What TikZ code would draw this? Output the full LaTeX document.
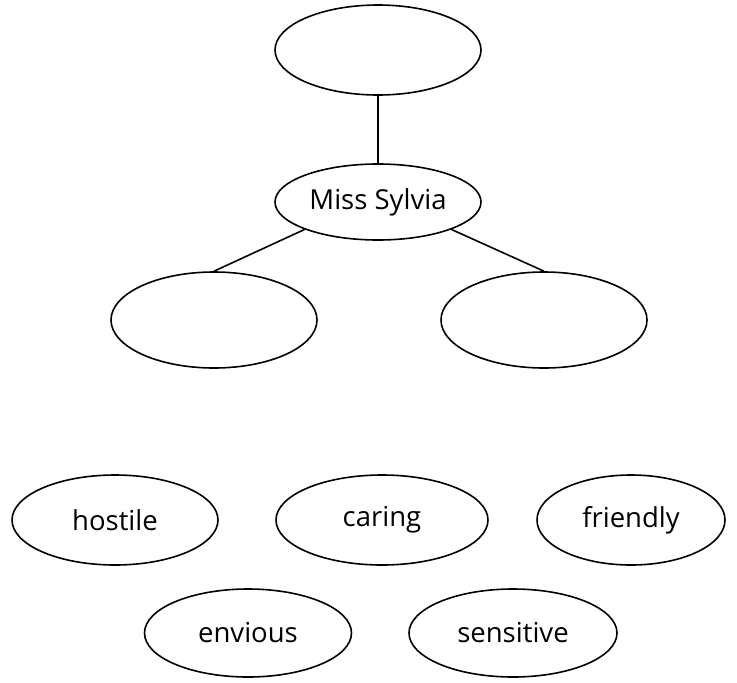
\documentclass[tikz,border=0pt]{standalone}
\usepackage{fontspec}
\setmainfont{Open Sans}
\usetikzlibrary{shapes.geometric}

\tikzset{
  oval/.style={draw, ellipse, line width=1.6pt, inner sep=0pt,
    minimum width=206pt, minimum height=90pt, font=\fontsize{27.5}{32}\selectfont},
  link/.style={line width=1.6pt}
}

\begin{document}
\begin{tikzpicture}[x=1pt,y=1pt,yscale=-1]
\useasboundingbox (0,0) rectangle (737,683);

% tree
\node[oval] (top) at (378,50) {};
\node[oval, minimum height=76pt] (sylvia) at (378,202) {Miss Sylvia};
\node[oval, minimum height=96pt] (left) at (214,320) {};
\node[oval, minimum height=96pt] (right) at (544,320) {};

\draw[link] (top) -- (sylvia);
\draw[link] (sylvia.south west) -- (left.north);
\draw[link] (sylvia.south east) -- (right.north);

% word bank
\node[oval] (hostile) at (115,520) {hostile};
\node[oval, minimum width=212pt] (caring) at (382,520) {caring};
\node[oval, minimum width=188pt] (friendly) at (631,520) {friendly};
\node[oval, minimum width=207pt, minimum height=88pt] (envious) at (248,633) {envious};
\node[oval, minimum width=208pt, minimum height=88pt] (sensitive) at (513,633) {sensitive};

\end{tikzpicture}
\end{document}
